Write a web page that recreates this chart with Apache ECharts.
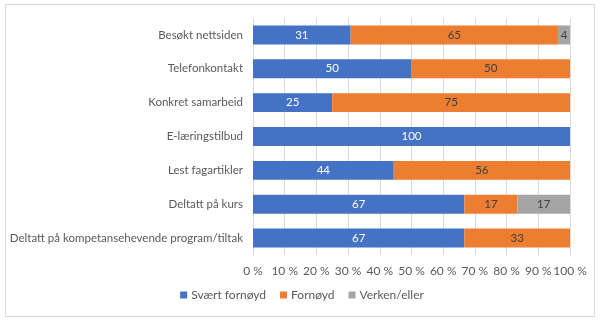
<!DOCTYPE html>
<html><head><meta charset="utf-8">
<script src="https://cdn.jsdelivr.net/npm/echarts@6/dist/echarts.min.js"></script>
<style>html,body{margin:0;padding:0;background:#fff}#c{width:604px;height:321px}</style>
</head><body><div id="c"></div>
<script>
const categories = ['Besøkt nettsiden','Telefonkontakt','Konkret samarbeid','E-læringstilbud','Lest fagartikler','Deltatt på kurs','Deltatt på kompetansehevende program/tiltak'];
const sværtFornøyd = [30.8, 50, 25, 100, 44.4, 66.7, 66.7];
const fornøyd = [65.4, 50, 75, null, 55.6, 16.7, 33.3];
const verkenEller = [3.8, null, null, null, null, 16.7, null];
const seriesNames = ['Svært fornøyd','Fornøyd','Verken/eller'];
const colors = ['#4472C4','#ED7D31','#A5A5A5'];
const labelColors = ['#FFFFFF','#404040','#404040'];
const font = 'Lato, Open Sans, sans-serif';

const chart = echarts.init(document.getElementById('c'), null, {renderer:'canvas'});
const data = [sværtFornøyd, fornøyd, verkenEller];
chart.setOption({
  animation:false,
  color: colors,
  textStyle:{fontFamily:font},
  graphic:[{type:'rect', shape:{x:5.5,y:4.5,width:589,height:312}, style:{fill:'none', stroke:'#D9D9D9', lineWidth:1}, silent:true}],
  grid:{left:253, right:34, top:18, bottom:66, containLabel:false, outerBoundsMode:'none'},
  legend:{bottom:15, left:'center', itemWidth:7, itemHeight:7, itemGap:14, itemStyle:{borderWidth:0}, icon:'rect',
    textStyle:{color:'#595959', fontSize:12, fontFamily:font, padding:[0,0,0,-1]}, data:seriesNames},
  xAxis:{type:'value', min:0, max:100, interval:10,
    axisLabel:{formatter:v=>v+' %', color:'#595959', fontSize:12, fontFamily:font, margin:10},
    splitLine:{show:true, lineStyle:{color:'#D9D9D9'}},
    axisLine:{show:false}, axisTick:{show:false}},
  yAxis:{type:'category', data:categories, inverse:true,
    axisLine:{show:false}, axisTick:{show:false},
    axisLabel:{color:'#595959', fontSize:11.5, fontFamily:font, margin:10}},
  series: seriesNames.map((n,i)=>({
    name:n, type:'bar', stack:'s', barWidth:'56%',
    data:data[i],
    label:{show:true, position:'inside', color:labelColors[i], fontSize:11.5, fontFamily:font,
      formatter:p=>p.value==null?'':Math.round(p.value)}
  }))
});
</script></body></html>
